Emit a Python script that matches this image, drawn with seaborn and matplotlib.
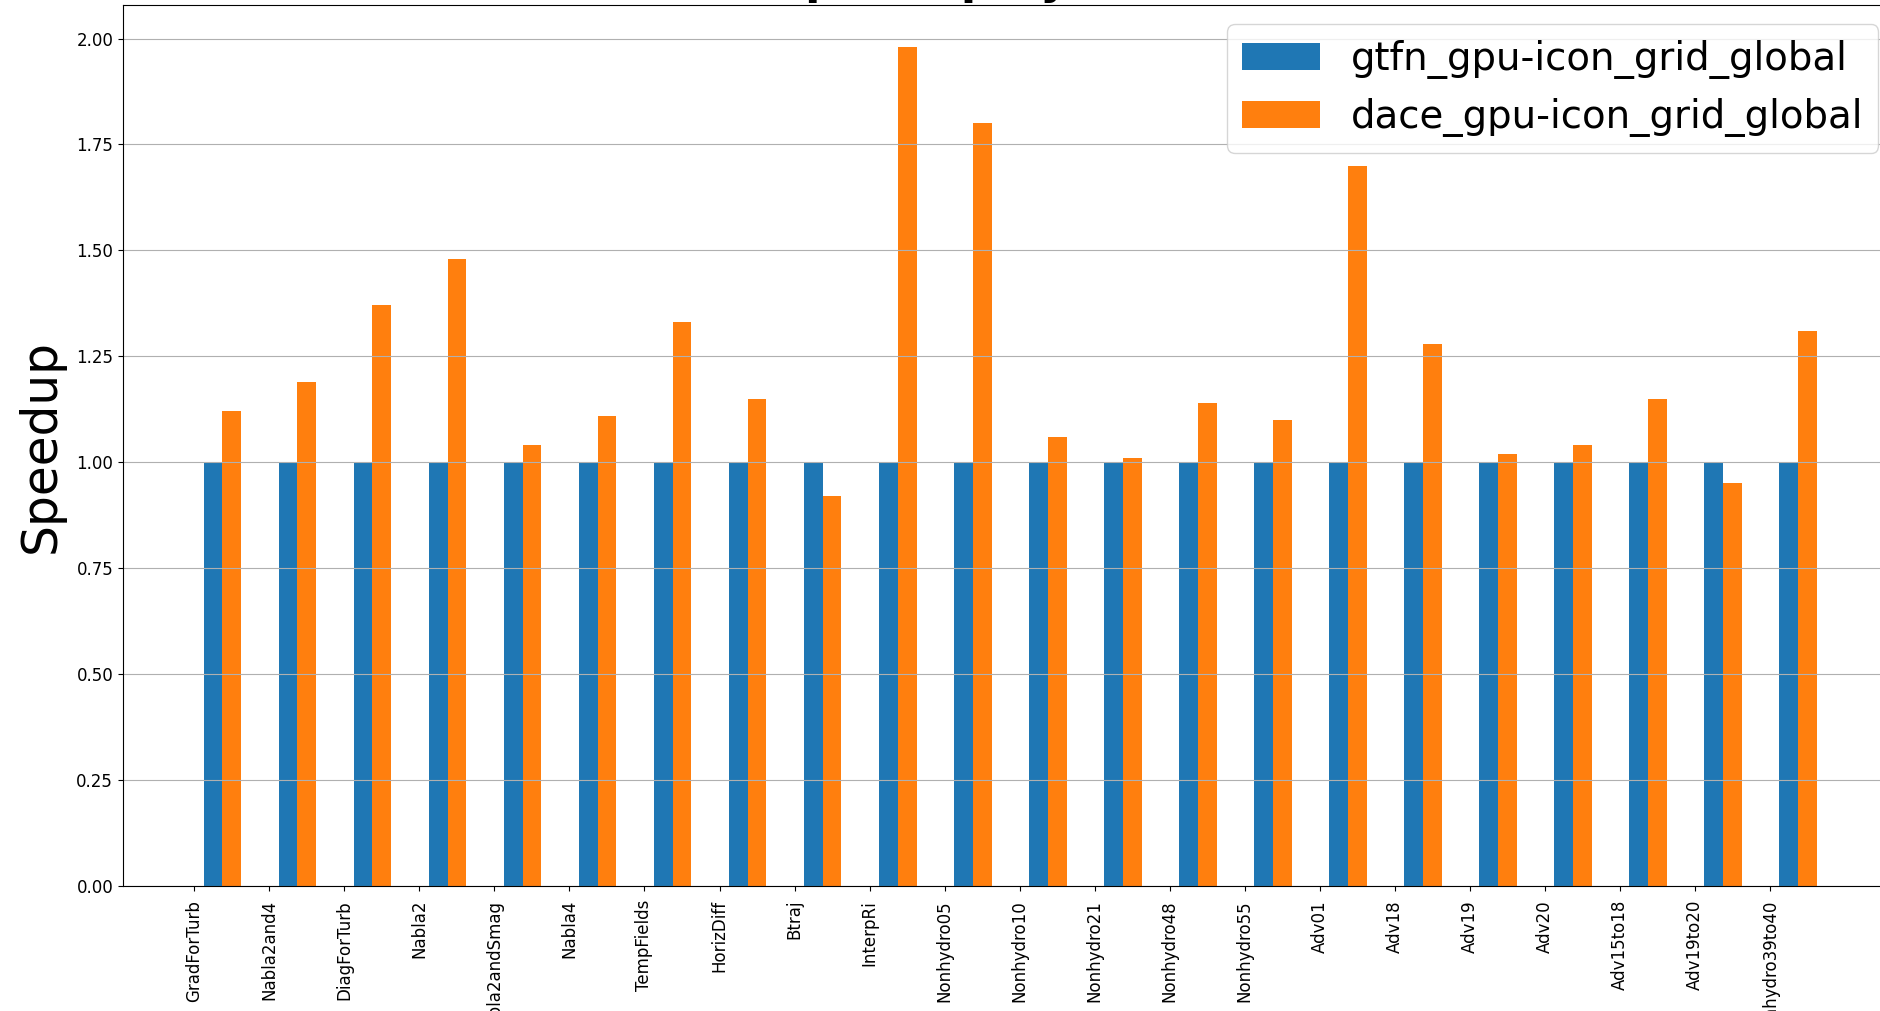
import numpy as np
import pandas as pd
import matplotlib
matplotlib.use("Agg")
import matplotlib.pyplot as plt
import seaborn as sns

# Per-stencil speedup relative to the gtfn GPU backend
stencils = [
    "GradForTurb", "Nabla2and4", "DiagForTurb", "Nabla2", "Nabla2andSmag",
    "Nabla4", "TempFields", "HorizDiff", "Btraj", "InterpRi", "Nonhydro05",
    "Nonhydro10", "Nonhydro21", "Nonhydro48", "Nonhydro55", "Adv01", "Adv18",
    "Adv19", "Adv20", "Adv15to18", "Adv19to20", "Nonhydro39to40",
]
backends = ["gtfn_gpu-icon_grid_global", "dace_gpu-icon_grid_global"]
gtfn_speedup = [1.00, 1.00, 1.00, 1.00, 1.00, 1.00, 1.00, 1.00, 1.00, 1.00, 1.00,
                1.00, 1.00, 1.00, 1.00, 1.00, 1.00, 1.00, 1.00, 1.00, 1.00, 1.00]
dace_speedup = [1.12, 1.19, 1.37, 1.48, 1.04, 1.11, 1.33, 1.15, 0.92, 1.98, 1.80,
                1.06, 1.01, 1.14, 1.10, 1.70, 1.28, 1.02, 1.04, 1.15, 0.95, 1.31]
title = "Speedup by stencil (GH200 GPU)"

colors = ["#1f77b4", "#ff7f0e"]
bar_width = 0.25

fig = plt.figure(figsize=(18.8, 10.11), dpi=100)
ax = fig.add_axes([0.0654, 0.1236, 0.944, 0.8714])

pos = np.arange(len(stencils))
for k, (name, vals) in enumerate(zip(backends, [gtfn_speedup, dace_speedup])):
    df = pd.DataFrame({"x": pos + (k + 1) * bar_width, "speedup": vals})
    sns.barplot(data=df, x="x", y="speedup", native_scale=True, width=bar_width,
                color=colors[k], saturation=1, errorbar=None, label=name, ax=ax)

ax.set_xlabel("")
ax.set_ylabel("Speedup", fontsize=35, labelpad=8)
ax.set_xticks(pos)
ax.set_xticklabels(stencils, rotation=90, fontsize=12)
ax.tick_params(axis="x", pad=6.5)
ax.tick_params(axis="y", labelsize=12)
ax.grid(axis="y")
ax.legend(loc="upper right", fontsize=27.8)

fig.suptitle(title, x=1184.5 / 1880, y=1 + 6 / 1011, ha="center", va="baseline",
             fontsize=32, fontweight="bold")

fig.savefig("out.png", dpi=100)
